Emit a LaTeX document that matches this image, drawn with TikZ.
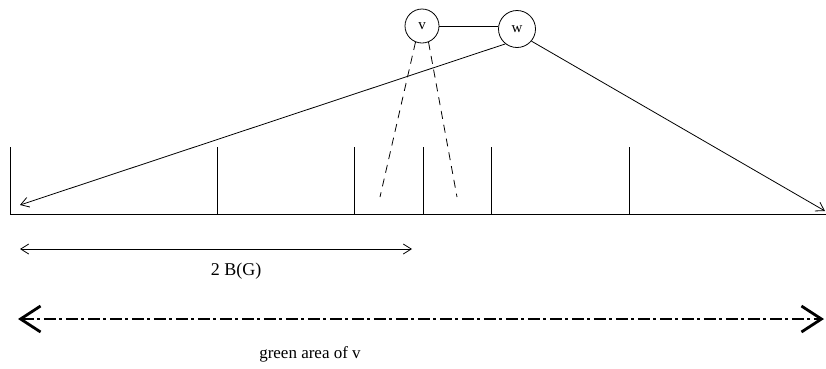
\documentclass[tikz,border=0pt]{standalone}
\usepackage{fontspec}
\setmainfont{Liberation Serif}
\usetikzlibrary{arrows.meta}
\begin{document}
\begin{tikzpicture}[x=1pt,y=-1pt,
  thin line/.style={line width=0.8pt},
  tick/.style={line width=1pt},
  vertex/.style={circle,draw,line width=0.8pt,minimum size=34pt,inner sep=0pt,font=\fontsize{15}{17}\selectfont},
  openarrow/.style={thin line,-{Straight Barb[length=8pt,width=10pt]}},
  bigarrow/.style={line width=2.8pt,{Straight Barb[length=20pt,width=26pt]}-{Straight Barb[length=20pt,width=26pt]},dash pattern=on 12pt off 3.5pt on 3pt off 3.5pt}]
\useasboundingbox (0,0) rectangle (826,368);
\node[vertex] (v) at (422,26) {v};
\node[vertex,minimum size=37pt] (w) at (517,29) {w};
\draw[thin line] (v.east) -- (w.west |- v.east);
% baseline and ticks
\coordinate (b0) at (10,214);
\coordinate (b1) at (826,214);
\draw[tick] (b0) -- (b1);
\foreach \x in {10,217,354,423,491,629}{
  \draw[tick] (\x,147) -- (\x,214);
}
% arrows from w
\coordinate (la) at (20,205);
\coordinate (ra) at (825,211);
\draw[openarrow] (w.-128) -- (la);
\draw[openarrow] (w.-40) -- (ra);
% dashed lines from v
\coordinate (d1) at (380,197);
\coordinate (d2) at (457,197);
\draw[thin line,dash pattern=on 8pt off 6pt] (v.-112) -- (d1);
\draw[thin line,dash pattern=on 8pt off 6pt] (v.-68) -- (d2);
% 2 B(G)
\coordinate (g0) at (20,249);
\coordinate (g1) at (412,249);
\draw[thin line,{Straight Barb[length=8pt,width=10pt]}-{Straight Barb[length=8pt,width=10pt]}] (g0) -- (g1);
\node[font=\fontsize{18}{21}\selectfont] (bg) at (236,271) {2 B(G)};
% green area
\coordinate (h0) at (18,319);
\coordinate (h1) at (824,319);
\draw[bigarrow] (h0) -- (h1);
\node[font=\fontsize{17}{20}\selectfont] (ga) at (310,354) {green area of v};
\end{tikzpicture}
\end{document}
